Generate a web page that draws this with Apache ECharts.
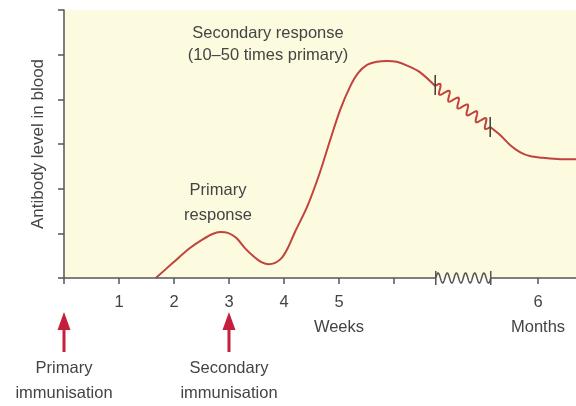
<!DOCTYPE html>
<html>
<head>
<meta charset="utf-8">
<script src="https://cdn.jsdelivr.net/npm/echarts@6/dist/echarts.min.js"></script>
<style>
  html, body { margin: 0; padding: 0; background: #ffffff; }
  #chart { width: 576px; height: 406px; }
</style>
</head>
<body>
<div id="chart"></div>
<script>
// Time axis: weeks 0–6, a compressed gap, then months (axis units, 1 unit = 1 week before the gap)
const weekTicks = [0, 1, 2, 3, 4, 5, 6];
const monthTick = 8.62;
const timeGap = [6.76, 7.76];
const axisEnd = 9.31;
const tickLabelPos = [1, 2, 3, 4, 5, 8.62];
const tickLabelText = ['1', '2', '3', '4', '5', '6'];
const unitLabels = { 5: 'Weeks', 8.62: 'Months' };

// Antibody level: primary response, dip, secondary response (weeks section)
const earlyX = [1.67, 1.98, 2.29, 2.53, 2.69, 2.84, 2.98, 3.13, 3.29, 3.44, 3.58, 3.71, 3.84, 3.96,
                4.07, 4.20, 4.42, 4.65, 4.84, 5.02, 5.20, 5.35, 5.51, 5.69, 5.87, 6.05, 6.25, 6.47, 6.75];
const earlyY = [0, 0.34, 0.67, 0.87, 0.98, 1.03, 1.01, 0.90, 0.67, 0.49, 0.36, 0.31, 0.34, 0.45,
                0.67, 1.03, 1.59, 2.35, 3.09, 3.76, 4.28, 4.59, 4.77, 4.84, 4.86, 4.84, 4.75, 4.61, 4.30];
// Antibody level after the time gap (months section)
const lateX = [7.75, 7.93, 8.11, 8.29, 8.47, 8.71, 9.02, 9.31];
const lateY = [3.38, 3.20, 2.98, 2.82, 2.73, 2.69, 2.66, 2.66];

// Immunisation events (weeks)
const immunisationWeeks = [0, 3];
const immunisationText = ['Primary\nimmunisation', 'Secondary\nimmunisation'];

const FONT = "'Liberation Sans', Arial, sans-serif";
const TEXT = '#444444';
const AXIS = '#555555';
const CURVE = '#c0433d';
const ARROW = '#c41f3d';
const PLOT_BG = '#fdfbdf';

const zip = (xs, ys) => xs.map((x, i) => [x, ys[i]]);

// Sine-wave polyline between two pixel points
function wavePoints(p1, p2, cycles, amp, steps) {
  const dx = p2[0] - p1[0], dy = p2[1] - p1[1];
  const len = Math.hypot(dx, dy);
  const nx = -dy / len, ny = dx / len;
  const pts = [];
  for (let i = 0; i <= steps; i++) {
    const s = i / steps;
    const w = -amp * Math.sin(2 * Math.PI * cycles * s);
    pts.push([p1[0] + dx * s + nx * w, p1[1] + dy * s + ny * w]);
  }
  return pts;
}

const chart = echarts.init(document.getElementById('chart'), null, { renderer: 'canvas' });

const option = {
  animation: false,
  backgroundColor: '#ffffff',
  grid: {
    left: 64, right: 0, top: 10, bottom: 128,
    show: true, backgroundColor: PLOT_BG, borderWidth: 0
  },
  xAxis: {
    type: 'value',
    min: 0,
    max: axisEnd,
    axisLine: { show: false },
    splitLine: { show: false },
    axisTick: {
      show: true,
      customValues: weekTicks.concat([monthTick]),
      length: 6,
      lineStyle: { color: AXIS, width: 1.5 }
    },
    axisLabel: {
      customValues: tickLabelPos,
      margin: 12,
      fontFamily: FONT,
      fontSize: 16.5,
      lineHeight: 25,
      color: TEXT,
      formatter: function (v) {
        const i = tickLabelPos.findIndex(p => Math.abs(p - v) < 1e-6);
        const t = i >= 0 ? tickLabelText[i] : '';
        const unit = Object.keys(unitLabels).find(k => Math.abs(Number(k) - v) < 1e-6);
        return unit ? t + '\n' + unitLabels[unit] : t;
      }
    }
  },
  yAxis: {
    type: 'value',
    min: 0,
    max: 6,
    interval: 1,
    name: 'Antibody level in blood',
    nameLocation: 'middle',
    nameRotate: 90,
    nameGap: 17,
    nameTextStyle: { fontFamily: FONT, fontSize: 17, color: TEXT },
    axisLine: { show: true, lineStyle: { color: AXIS, width: 1.5 } },
    axisTick: { show: true, length: 6, lineStyle: { color: AXIS, width: 1.5 } },
    axisLabel: { show: false },
    splitLine: { show: false }
  },
  graphic: [
    {
      type: 'text', x: 268, y: 44.5, z: 10,
      style: {
        text: 'Secondary response\n(10–50 times primary)',
        align: 'center', verticalAlign: 'middle', lineHeight: 22,
        font: '16.5px ' + FONT, fill: TEXT
      }
    },
    {
      type: 'text', x: 218, y: 202.5, z: 10,
      style: {
        text: 'Primary\nresponse',
        align: 'center', verticalAlign: 'middle', lineHeight: 25,
        font: '16.5px ' + FONT, fill: TEXT
      }
    }
  ],
  series: [
    {
      // antibody curve, weeks section
      type: 'line',
      data: zip(earlyX, earlyY),
      smooth: 0.3,
      symbol: 'none',
      lineStyle: { color: CURVE, width: 2 },
      z: 3
    },
    {
      // antibody curve, months section
      type: 'line',
      data: zip(lateX, lateY),
      smooth: 0.3,
      symbol: 'none',
      lineStyle: { color: CURVE, width: 2 },
      z: 3
    },
    {
      // wavy stretch of the curve across the time gap, with end bars
      type: 'custom',
      data: [[earlyX[earlyX.length - 1], earlyY[earlyY.length - 1], lateX[0], lateY[0]]],
      renderItem: function (params, api) {
        const p1 = api.coord([api.value(0), api.value(1)]);
        const p2 = api.coord([api.value(2), api.value(3)]);
        return {
          type: 'group',
          children: [
            { type: 'polyline', shape: { points: wavePoints(p1, p2, 6, 4.5, 200) },
              style: { stroke: CURVE, lineWidth: 2, fill: null } },
            { type: 'line', shape: { x1: p1[0], y1: p1[1] - 11, x2: p1[0], y2: p1[1] + 9 },
              style: { stroke: '#3d3d36', lineWidth: 1.5 } },
            { type: 'line', shape: { x1: p2[0], y1: p2[1] - 10, x2: p2[0], y2: p2[1] + 10 },
              style: { stroke: '#3d3d36', lineWidth: 1.5 } }
          ]
        };
      },
      z: 4
    },
    {
      // x baseline with the squiggle marking the time gap
      type: 'custom',
      data: [[0, timeGap[0], timeGap[1], axisEnd]],
      renderItem: function (params, api) {
        const a = api.coord([api.value(0), 0]);
        const b = api.coord([api.value(1), 0]);
        const c = api.coord([api.value(2), 0]);
        const d = api.coord([api.value(3), 0]);
        const st = { stroke: AXIS, lineWidth: 1.5, fill: null };
        return {
          type: 'group',
          children: [
            { type: 'line', shape: { x1: a[0], y1: a[1], x2: b[0], y2: b[1] }, style: st },
            { type: 'line', shape: { x1: c[0], y1: c[1], x2: d[0], y2: d[1] }, style: st },
            { type: 'polyline', shape: { points: wavePoints(b, c, 6, 5, 200) }, style: st },
            { type: 'line', shape: { x1: b[0], y1: b[1] - 7, x2: b[0], y2: b[1] + 7 }, style: st },
            { type: 'line', shape: { x1: c[0], y1: c[1] - 7, x2: c[0], y2: c[1] + 7 }, style: st }
          ]
        };
      },
      z: 5
    },
    {
      // immunisation arrows and captions below the time axis
      type: 'custom',
      data: immunisationWeeks.map((w, i) => [w, 0, i]),
      renderItem: function (params, api) {
        const p = api.coord([api.value(0), 0]);
        const x = p[0], y0 = p[1];
        const idx = api.value(2);
        return {
          type: 'group',
          children: [
            { type: 'rect', shape: { x: x - 1.5, y: y0 + 48, width: 3, height: 26 },
              style: { fill: ARROW } },
            { type: 'polygon', shape: { points: [[x, y0 + 34], [x - 6.5, y0 + 52], [x + 6.5, y0 + 52]] },
              style: { fill: ARROW } },
            { type: 'text', x: x, y: y0 + 102.5,
              style: { text: immunisationText[idx], align: 'center', verticalAlign: 'middle',
                       lineHeight: 25, font: '16.5px ' + FONT, fill: TEXT } }
          ]
        };
      },
      z: 5
    }
  ]
};

chart.setOption(option);
</script>
</body>
</html>
